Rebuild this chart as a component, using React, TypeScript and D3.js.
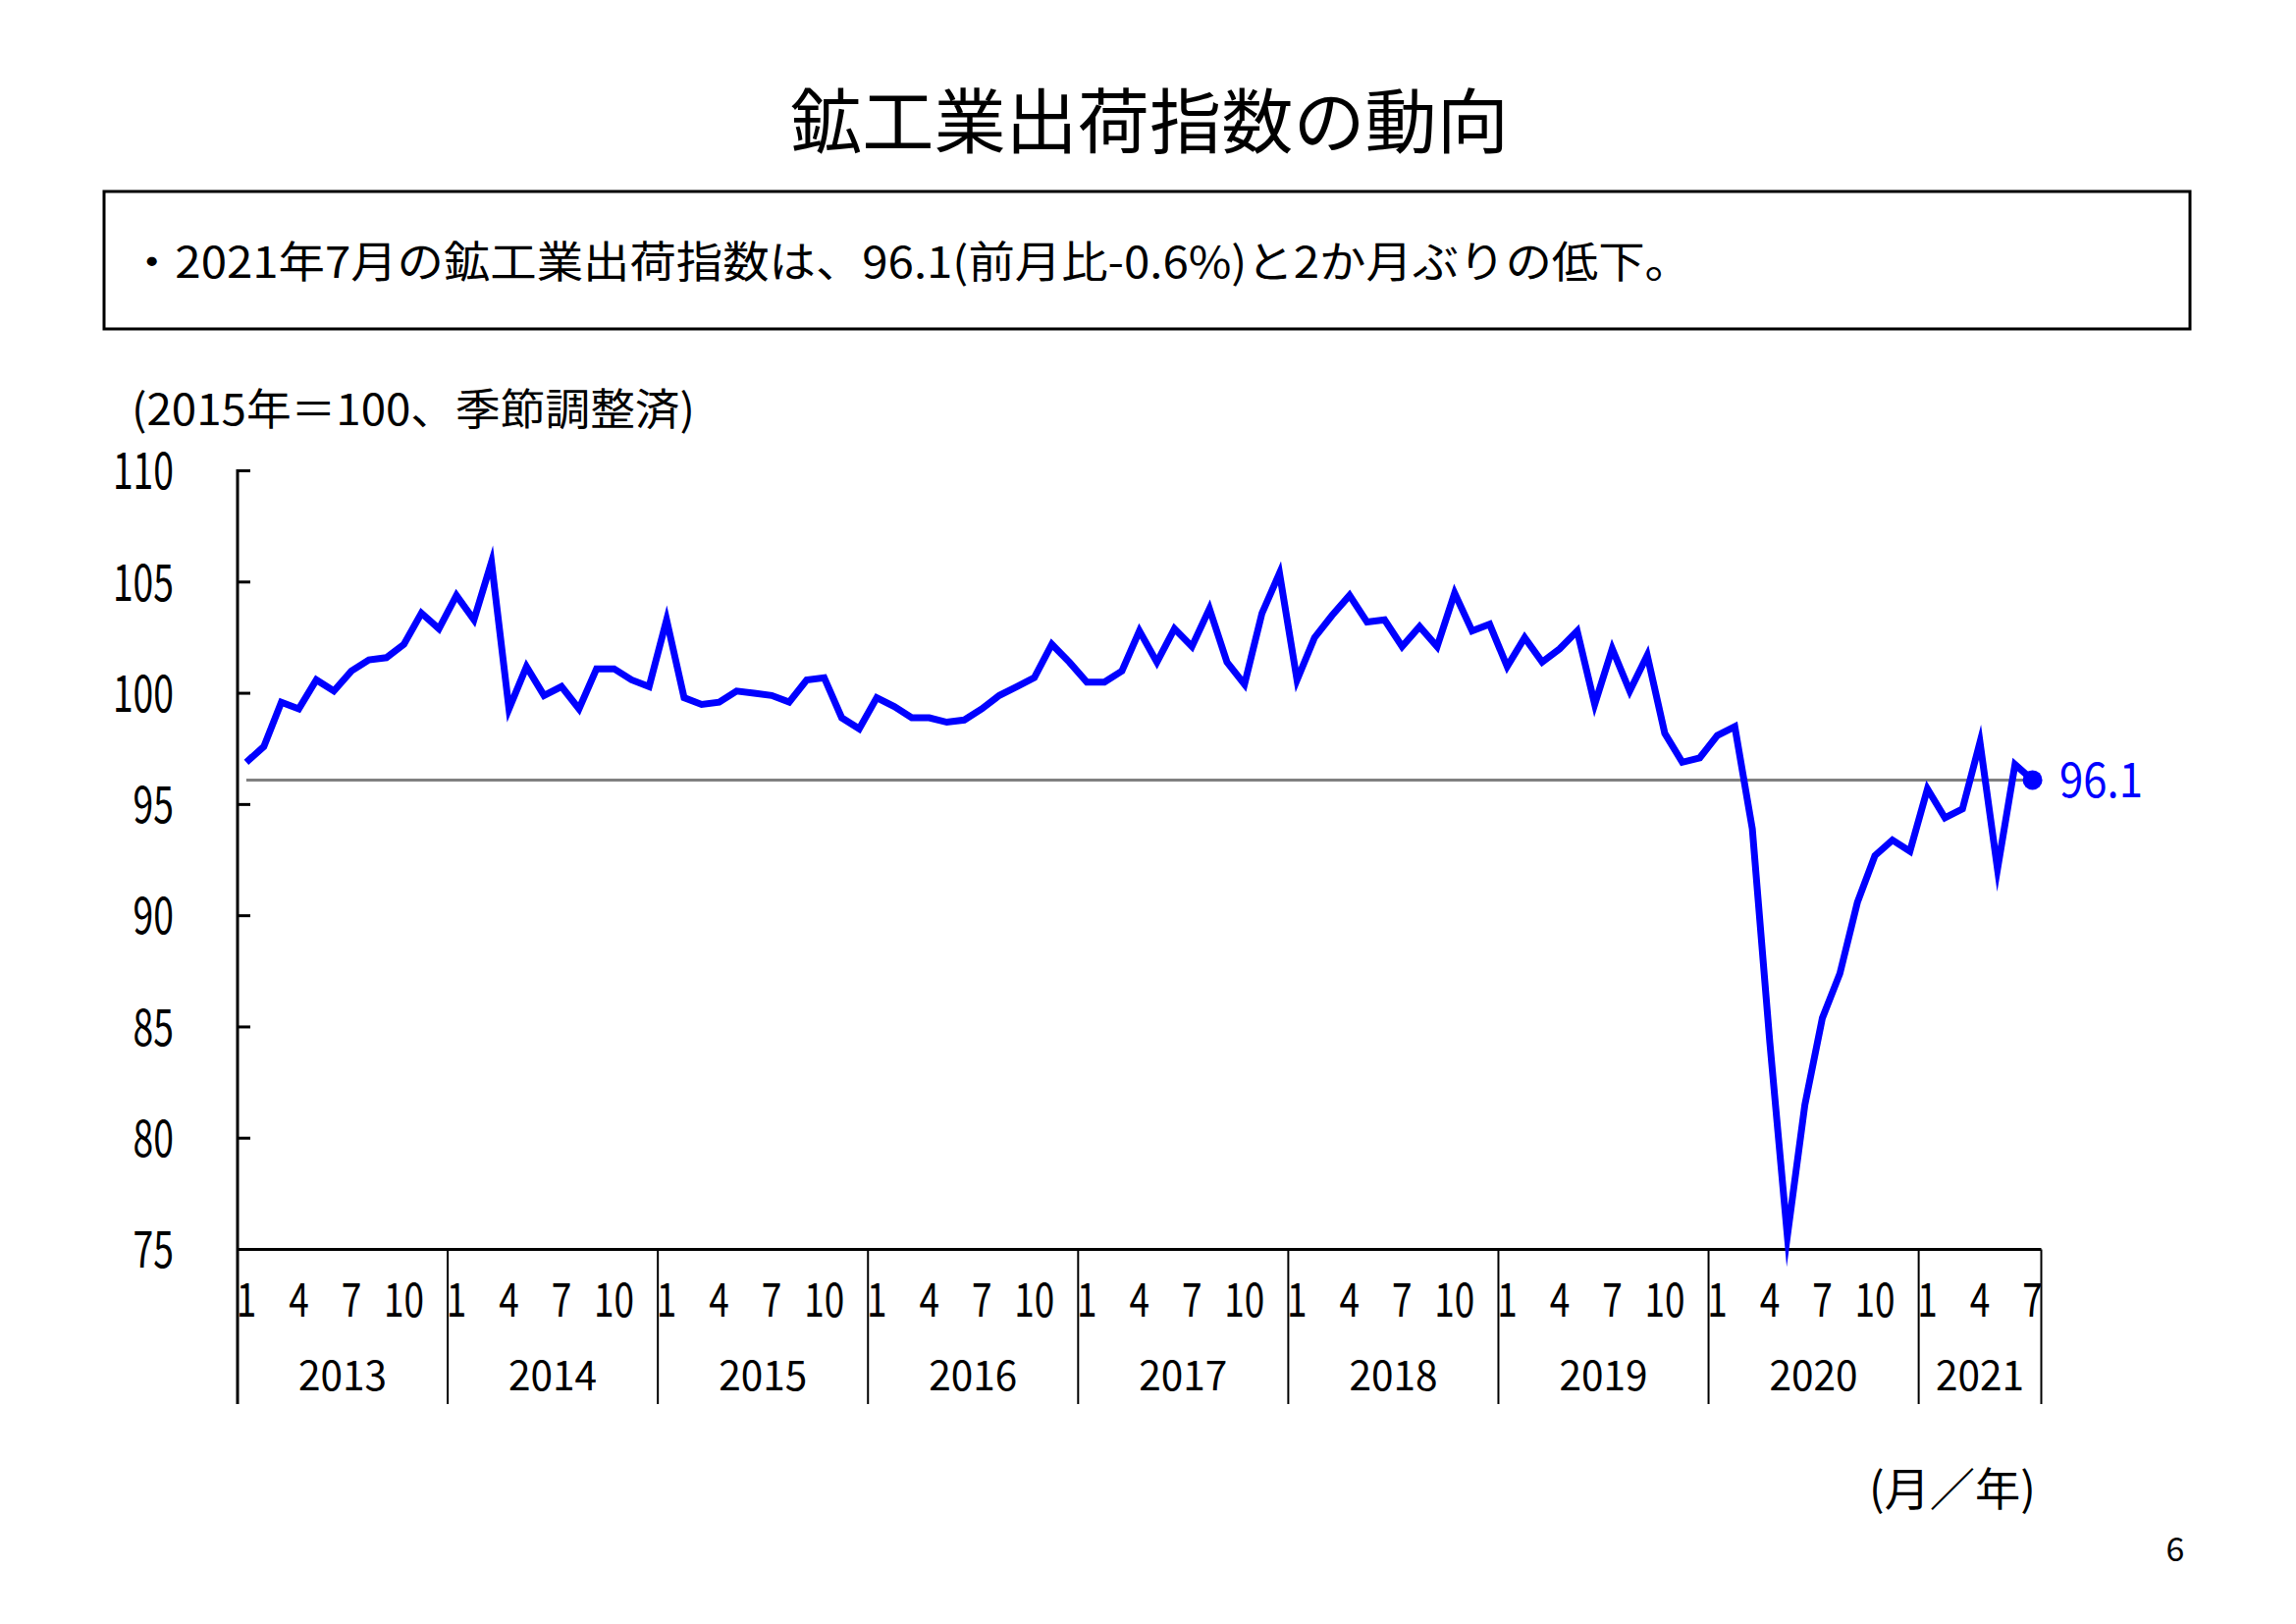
import React from 'react';
import * as d3 from 'd3';

// ---- data ----
const years = ['2013', '2014', '2015', '2016', '2017', '2018', '2019', '2020', '2021'];
const v2013 = [96.9, 97.6, 99.6, 99.3, 100.6, 100.1, 101.0, 101.5, 101.6, 102.2, 103.6, 102.9];
const v2014 = [104.4, 103.3, 105.9, 99.3, 101.2, 99.9, 100.3, 99.3, 101.1, 101.1, 100.6, 100.3];
const v2015 = [103.3, 99.8, 99.5, 99.6, 100.1, 100.0, 99.9, 99.6, 100.6, 100.7, 98.9, 98.4];
const v2016 = [99.8, 99.4, 98.9, 98.9, 98.7, 98.8, 99.3, 99.9, 100.3, 100.7, 102.2, 101.4];
const v2017 = [100.5, 100.5, 101.0, 102.8, 101.4, 102.9, 102.1, 103.8, 101.4, 100.4, 103.6, 105.4];
const v2018 = [100.6, 102.5, 103.5, 104.4, 103.2, 103.3, 102.1, 103.0, 102.1, 104.5, 102.8, 103.1];
const v2019 = [101.2, 102.5, 101.4, 102.0, 102.8, 99.5, 102.0, 100.1, 101.7, 98.2, 96.9, 97.1];
const v2020 = [98.1, 98.5, 93.9, 84.3, 75.6, 81.5, 85.4, 87.4, 90.6, 92.7, 93.4, 92.9];
const v2021 = [95.7, 94.4, 94.8, 97.8, 92.1, 96.8, 96.1];
const seriesByYear = [v2013, v2014, v2015, v2016, v2017, v2018, v2019, v2020, v2021];
const monthTickLabels = [1, 4, 7, 10];
const yTicks = [75, 80, 85, 90, 95, 100, 105, 110];
const latestValue = 96.1;
const latestLabel = '96.1';

const titleText = '鉱工業出荷指数の動向';
const summaryText = '・2021年7月の鉱工業出荷指数は、96.1(前月比-0.6%)と2か月ぶりの低下。';
const yUnitText = '(2015年＝100、季節調整済)';
const xUnitText = '(月／年)';
const pageText = '6';

const FF = '"Noto Sans CJK JP", "Noto Sans", sans-serif';
// baseline offsets (fraction of font size) from visual centre
const NUM = 0.36;
const CJK = 0.38;

export default function App() {
  const data = seriesByYear.flatMap((arr, yi) =>
    arr.map((v, mi) => ({ year: years[yi], month: mi + 1, value: v }))
  );
  const n = data.length;
  const left = 242;
  const right = 2079.5;
  const x = d3.scaleBand<number>().domain(d3.range(n)).range([left, right]).padding(0);
  const bw = x.bandwidth();
  const cx = (i: number) => (x(i) as number) + bw / 2;
  const y = d3.scaleLinear().domain([75, 110]).range([1272.5, 479.5]);

  const line = d3
    .line<{ value: number }>()
    .x((_d, i) => cx(i))
    .y((d) => y(d.value));

  const yearStarts: number[] = [];
  let acc = 0;
  seriesByYear.forEach((arr) => {
    yearStarts.push(acc);
    acc += arr.length;
  });

  const axisY = y(75);
  const sepBottom = 1430;

  return (
    <svg
      width={2339}
      height={1654}
      viewBox="0 0 2339 1654"
      style={{ position: 'absolute', left: 0, top: 0, background: '#fff' }}
      fontFamily={FF}
    >
      <rect x={0} y={0} width={2339} height={1654} fill="#fff" />
      {/* Title */}
      <text x={1171} y={123 + CJK * 72} fontSize={72} textAnchor="middle" textLength={732} lengthAdjust="spacingAndGlyphs">
        {titleText}
      </text>
      {/* Summary box */}
      <rect x={106} y={195} width={2125} height={140} fill="none" stroke="#000" strokeWidth={3} />
      <text x={131} y={266 + CJK * 44} fontSize={44} textLength={1592} lengthAdjust="spacingAndGlyphs">
        {summaryText}
      </text>
      {/* y unit */}
      <text x={134} y={416 + CJK * 44} fontSize={44} textLength={574} lengthAdjust="spacingAndGlyphs">
        {yUnitText}
      </text>

      {/* reference line */}
      <line x1={cx(0)} x2={cx(n - 1)} y1={y(latestValue)} y2={y(latestValue)} stroke="#808080" strokeWidth={3} />

      {/* y axis */}
      <line x1={left} x2={left} y1={y(110) - 1.5} y2={sepBottom} stroke="#000" strokeWidth={3} />
      {yTicks.map((t) => (
        <g key={t}>
          <line x1={left} x2={left + 13} y1={y(t)} y2={y(t)} stroke="#000" strokeWidth={3} />
          <text
            x={177}
            y={y(t) + NUM * 52}
            fontSize={52}
            textAnchor="end"
            textLength={String(t).length * 20.7}
            lengthAdjust="spacingAndGlyphs"
          >
            {t}
          </text>
        </g>
      ))}

      {/* x axis */}
      <line x1={left} x2={right} y1={axisY} y2={axisY} stroke="#000" strokeWidth={3} />
      {yearStarts.map((s, yi) => (
        <line key={'sep' + yi} x1={x(s) as number} x2={x(s) as number} y1={axisY} y2={sepBottom} stroke="#000" strokeWidth={2} />
      ))}
      <line x1={right} x2={right} y1={axisY} y2={sepBottom} stroke="#000" strokeWidth={2} />
      {yearStarts.map((s, yi) => {
        const len = seriesByYear[yi].length;
        const x0 = x(s) as number;
        const x1 = (x(s + len - 1) as number) + bw;
        return (
          <g key={'yl' + yi}>
            {monthTickLabels
              .filter((m) => m <= len)
              .map((m) => (
                <text
                  key={m}
                  x={cx(s + m - 1)}
                  y={1324 + NUM * 48}
                  fontSize={48}
                  textAnchor="middle"
                  textLength={String(m).length * 20.5}
                  lengthAdjust="spacingAndGlyphs"
                >
                  {m}
                </text>
              ))}
            <text
              x={(x0 + x1) / 2}
              y={1401 + NUM * 42}
              fontSize={42}
              textAnchor="middle"
              textLength={90}
              lengthAdjust="spacingAndGlyphs"
            >
              {years[yi]}
            </text>
          </g>
        );
      })}

      {/* data line */}
      <path
        d={line(data) || ''}
        fill="none"
        stroke="#0000FF"
        strokeWidth={7}
        strokeLinejoin="miter"
        strokeMiterlimit={10}
      />
      <circle cx={cx(n - 1)} cy={y(data[n - 1].value)} r={10} fill="#0000FF" />
      <text
        x={2098}
        y={y(data[n - 1].value) + NUM * 49}
        fontSize={49}
        fill="#0000FF"
        textLength={85}
        lengthAdjust="spacingAndGlyphs"
      >
        {latestLabel}
      </text>

      {/* footer */}
      <text x={1904} y={1516 + CJK * 46} fontSize={46} textLength={170} lengthAdjust="spacingAndGlyphs">
        {xUnitText}
      </text>
      <text x={2216} y={1578 + NUM * 34} fontSize={34} textAnchor="middle">
        {pageText}
      </text>
    </svg>
  );
}
